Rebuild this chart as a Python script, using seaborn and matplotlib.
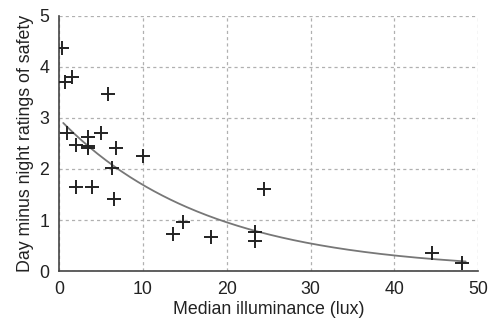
import numpy as np
import pandas as pd
import matplotlib
matplotlib.use("Agg")
import matplotlib.pyplot as plt
import seaborn as sns

# median illuminance (lux) and day-minus-night safety rating
lux = [0.4, 0.7, 1.6, 5.8, 1.0, 3.4, 5.0, 2.0, 3.5, 3.5, 6.8, 10.0, 6.3, 2.0, 3.9,
       6.5, 13.6, 14.8, 18.1, 23.4, 23.4, 24.4, 44.5, 48.1]
diff = [4.37, 3.70, 3.80, 3.47, 2.70, 2.62, 2.70, 2.47, 2.45, 2.41, 2.41, 2.26, 2.02,
        1.65, 1.65, 1.41, 0.72, 0.96, 0.66, 0.77, 0.59, 1.60, 0.36, 0.15]

x_ticks = [0, 10, 20, 30, 40, 50]
y_ticks = [0, 1, 2, 3, 4, 5]

df = pd.DataFrame({"lux": lux, "diff": diff})

# exponential trend line (log-linear least squares, like a spreadsheet trendline)
b, log_a = np.polyfit(df["lux"], np.log(df["diff"]), 1)
xs = np.linspace(0.5, 48.5, 200)
trend = pd.DataFrame({"lux": xs, "diff": np.exp(log_a) * np.exp(b * xs)})

sns.set_style("white")
plt.rcParams["font.family"] = ["Liberation Sans", "DejaVu Sans"]

fig = plt.figure(figsize=(4.88, 3.25), dpi=100)
ax = fig.add_axes([0.121, 0.166, 0.859, 0.785])

sns.lineplot(data=trend, x="lux", y="diff", ax=ax, color="#777777", lw=1.3)
sns.scatterplot(data=df, x="lux", y="diff", ax=ax, marker="+", s=90,
                color="#222222", linewidth=1.4, zorder=3)

ax.set_xlim(0, 50)
ax.set_ylim(0, 5)
ax.set_xticks(x_ticks)
ax.set_yticks(y_ticks)
ax.grid(True, ls=(0, (2.5, 2.5)), color="#b0b0b0", lw=0.9)
for s in ["top", "right"]:
    ax.spines[s].set_visible(False)
for s in ["left", "bottom"]:
    ax.spines[s].set_color("#444444")
    ax.spines[s].set_linewidth(1.2)
ax.tick_params(axis="both", direction="out", length=4, width=1.2, color="#444444",
               labelsize=12.8, labelcolor="#222222", pad=3)
ax.set_xlabel("Median illuminance (lux)", fontsize=12.8, color="#222222", labelpad=2)
ax.set_ylabel("Day minus night ratings of safety", fontsize=12.8, color="#222222", labelpad=4)

fig.savefig("out.png", dpi=100)
